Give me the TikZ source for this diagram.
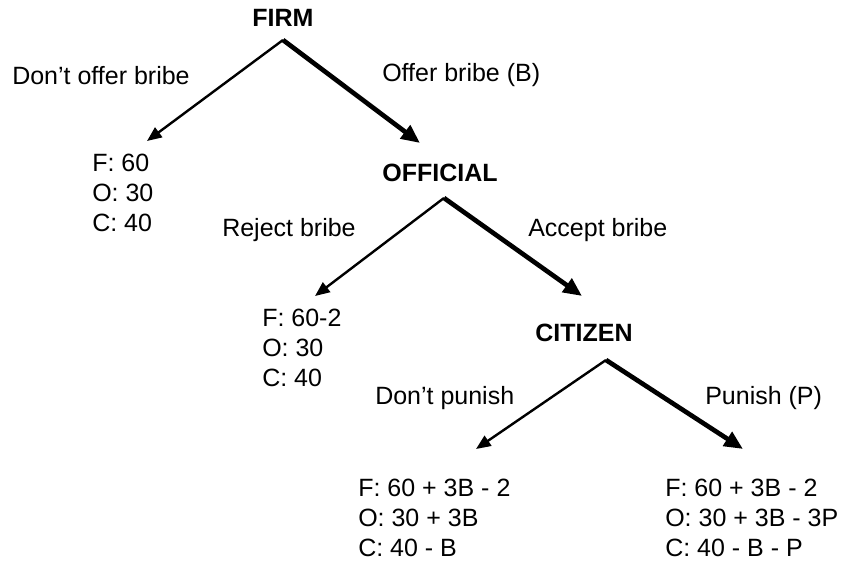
\documentclass[tikz,border=0pt]{standalone}
\usepackage{fontspec}
\setmainfont{Liberation Sans}
\usetikzlibrary{arrows.meta}

\tikzset{
    player/.style={font=\fontsize{18.75}{22.5}\selectfont\bfseries, inner sep=0pt},
    choice/.style={font=\fontsize{18.75}{22.5}\selectfont, inner sep=0pt, anchor=west},
    payoff/.style={font=\fontsize{18.75}{22.5}\selectfont, inner sep=0pt, anchor=north west, align=left},
    move/.style={line width=1.8pt, -{Triangle[length=11pt,width=9pt]}},
    bigmove/.style={line width=3.5pt, -{Triangle[length=14pt,width=12pt]}}
}

\begin{document}
\begin{tikzpicture}[x=0.75pt, y=-0.75pt]
        \useasboundingbox (0,0) rectangle (845,566);

        % Players
        \node[player] (firm) at (283,18) {FIRM};
        \node[player] (official) at (440,173) {OFFICIAL};
        \node[player] (citizen) at (584,333) {CITIZEN};

        % Where the branches start and end
        \coordinate (firmtop) at (283,40);
        \coordinate (officialtop) at (444,198);
        \coordinate (citizentop) at (606,360);
        \coordinate (nooffertip) at (147,141);
        \coordinate (offertip) at (420,143);
        \coordinate (rejecttip) at (315,296);
        \coordinate (accepttip) at (582,296);
        \coordinate (nopunishtip) at (476,449);
        \coordinate (punishtip) at (743,449);

        % Payoffs
        \node[payoff] (pay1) at (92,154) {F: 60\\O: 30\\C: 40};
        \node[payoff] (pay2) at (262,309) {F: 60-2\\O: 30\\C: 40};
        \node[payoff] (pay3) at (358,479) {F: 60 + 3B - 2\\O: 30 + 3B\\C: 40 - B};
        \node[payoff] (pay4) at (665,479) {F: 60 + 3B - 2\\O: 30 + 3B - 3P\\C: 40 - B - P};

        % Branches and their labels
        \draw[move] (firmtop) -- (nooffertip);
        \draw[bigmove] (firmtop) -- (offertip);
        \node[choice] (nooffer) at (12,76) {Don't offer bribe};
        \node[choice] (offer) at (382,75) {Offer bribe (B)};

        \draw[move] (officialtop) -- (rejecttip);
        \draw[bigmove] (officialtop) -- (accepttip);
        \node[choice] (reject) at (222,230) {Reject bribe};
        \node[choice] (accept) at (528,230) {Accept bribe};

        \draw[move] (citizentop) -- (nopunishtip);
        \draw[bigmove] (citizentop) -- (punishtip);
        \node[choice] (nopunish) at (375,398) {Don't punish};
        \node[choice] (punish) at (705,398) {Punish (P)};
\end{tikzpicture}
\end{document}
